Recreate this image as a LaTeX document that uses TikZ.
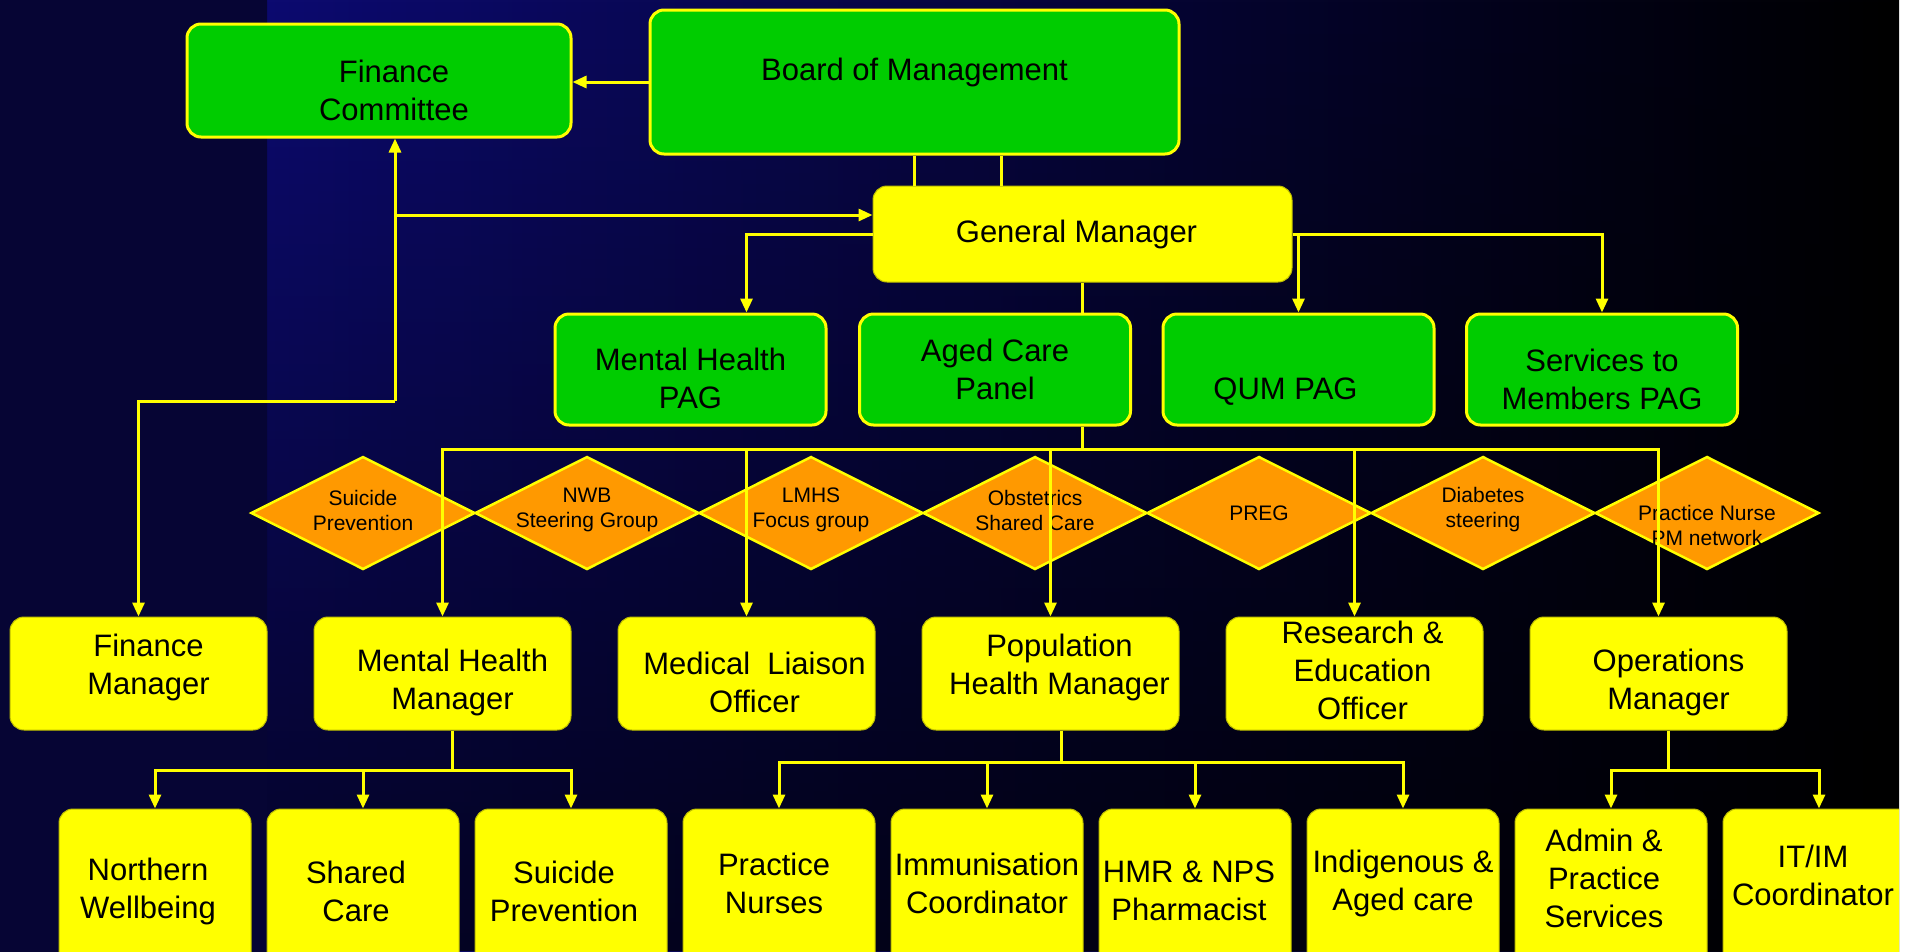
\documentclass[tikz,border=0pt]{standalone}
\usepackage{fontspec}
\setmainfont{Liberation Sans}
\usetikzlibrary{shapes.geometric,arrows.meta,fadings}

\definecolor{boxgreen}{RGB}{0,204,0}
\definecolor{boxorange}{RGB}{255,153,0}
\definecolor{boxyellow}{RGB}{255,255,0}
\definecolor{boxedge}{RGB}{190,190,0}
\definecolor{bgblue}{RGB}{12,10,112}
\definecolor{bgmid}{RGB}{9,8,84}
\definecolor{stripdark}{RGB}{6,5,52}
\definecolor{stripblue}{RGB}{12,10,116}
\newcommand\bigtxt{\fontsize{31}{38}\selectfont}
\newcommand\smalltxt{\fontsize{21}{25}\selectfont}
\tikzfading[name=fadeup, top color=transparent!100, bottom color=transparent!0]

\begin{document}
\begin{tikzpicture}[x=1pt, y=-1pt,
  every label/.style={font=\bigtxt, align=center, text=black},
  gbox/.style={draw=boxyellow, line width=3pt, fill=boxgreen, rounded corners=14pt, inner sep=0pt},
  ybox/.style={draw=boxedge, line width=1pt, fill=boxyellow, rounded corners=14pt, inner sep=0pt},
  panel/.style={diamond, draw=boxyellow, line width=2.5pt, fill=boxorange, inner sep=0pt,
    minimum width=224pt, minimum height=113pt},
  wh/.style 2 args={minimum width=#1pt, minimum height=#2pt},
  link/.style={draw=boxyellow, line width=3pt},
  arr/.style={link, -{Triangle[length=14pt,width=12pt]}}]

  \useasboundingbox (0,0) rectangle (1917,951);
  \fill[white] (0,0) rectangle (1917,951);
  \clip (0,0) rectangle (1899,951);
  \shade[left color=bgblue, middle color=bgmid, right color=black] (267,0) rectangle (1899,951);
  \fill[black, fill opacity=0.65, path fading=fadeup] (267,0) rectangle (1899,951);
  \shade[top color=stripdark, middle color=stripblue, bottom color=stripdark] (0,0) rectangle (267,951);

  % board and committees
  \node[gbox, wh={384}{113}, label={[xshift=15pt, yshift=-10pt]center:Finance\\Committee}] (fc) at (379,80.5) {};
  \node[gbox, wh={529}{144}, label={[yshift=10pt]center:Board of Management}] (board) at (914.5,82) {};
  \node[ybox, wh={419}{96}, label={[xshift=-6pt]center:General Manager}] (gm) at (1082.5,234) {};

  \node[gbox, wh={271}{111}, label={[yshift=-9pt]center:Mental Health\\PAG}] (mhpag) at (690.5,369.5) {};
  \node[gbox, wh={271}{111}, label={center:Aged Care\\Panel}] (acp) at (995,369.5) {};
  \node[gbox, wh={271}{111}, label={[xshift=-13pt, yshift=-22pt]center:QUM PAG}] (qum) at (1298.5,369.5) {};
  \node[gbox, wh={271}{111}, label={[yshift=-10pt]center:Services to\\Members PAG}] (smpag) at (1602,369.5) {};

  % working groups
  \node[panel, label={[font=\smalltxt, yshift=3pt]center:Suicide\\Prevention}] (dsp) at (363,513) {};
  \node[panel, label={[font=\smalltxt, yshift=3pt]center:NWB\\Steering Group}] (dnwb) at (587,513) {};
  \node[panel, label={[font=\smalltxt, yshift=3pt]center:LMHS\\Focus group}] (dlmhs) at (811,513) {};
  \node[panel, label={[font=\smalltxt, yshift=3pt]center:Obstetrics\\Shared Care}] (dobs) at (1035,513) {};
  \node[panel, label={[font=\smalltxt]center:PREG}] (dpreg) at (1259,513) {};
  \node[panel, label={[font=\smalltxt, yshift=3pt]center:Diabetes\\steering}] (ddia) at (1483,513) {};
  \node[panel, label={[font=\smalltxt, yshift=-12pt]center:Practice Nurse\\PM network}] (dpn) at (1707,513) {};

  % managers
  \node[ybox, wh={257}{113}, label={[xshift=10pt, yshift=6pt]center:Finance\\Manager}] (fm) at (138.5,673.5) {};
  \node[ybox, wh={257}{113}, label={[xshift=10pt, yshift=-9pt]center:Mental Health\\Manager}] (mhm) at (442.5,673.5) {};
  \node[ybox, wh={257}{113}, label={[xshift=8pt, yshift=-9pt]center:Medical~~Liaison\\Officer}] (mlo) at (746.5,673.5) {};
  \node[ybox, wh={257}{113}, label={[xshift=9pt, yshift=6pt]center:Population\\Health Manager}] (phm) at (1050.5,673.5) {};
  \node[ybox, wh={257}{113}, label={[xshift=8pt, yshift=3pt]center:Research \&\\Education\\Officer}] (reo) at (1354.5,673.5) {};
  \node[ybox, wh={257}{113}, label={[xshift=10pt, yshift=-9pt]center:Operations\\Manager}] (om) at (1658.5,673.5) {};

  % staff
  \node[ybox, wh={192}{180}, label={[xshift=-7pt, yshift=8pt]center:Northern\\Wellbeing}] (nw) at (155,899) {};
  \node[ybox, wh={192}{180}, label={[xshift=-7pt, yshift=8pt]center:Shared\\Care}] (sc) at (363,899) {};
  \node[ybox, wh={192}{180}, label={[xshift=-7pt, yshift=8pt]center:Suicide\\Prevention}] (sp) at (571,899) {};
  \node[ybox, wh={192}{180}, label={[xshift=-5pt, yshift=16pt]center:Practice\\Nurses}] (pn) at (779,899) {};
  \node[ybox, wh={192}{180}, label={[yshift=16pt]center:Immunisation\\Coordinator}] (ic) at (987,899) {};
  \node[ybox, wh={192}{180}, label={[xshift=-6pt, yshift=8pt]center:HMR \& NPS\\Pharmacist}] (hmr) at (1195,899) {};
  \node[ybox, wh={192}{180}, label={[yshift=16pt]center:Indigenous \&\\Aged care}] (ind) at (1403,899) {};
  \node[ybox, wh={192}{180}, label={[xshift=-7pt, yshift=21pt]center:Admin \&\\Practice\\Services}] (adm) at (1611,899) {};
  \node[ybox, wh={192}{180}, label={[xshift=-6pt, yshift=24pt]center:IT/IM\\Coordinator}] (itm) at (1819,899) {};

  % connectors
  \draw[arr] (board.west) -- (board.west -| fc.east);
  \draw[link] (board.south) -- (board.south |- gm.north);
  \draw[link] ([xshift=87pt]board.south) -- ([xshift=87pt]board.south |- gm.north);

  \coordinate (fknee) at (395,401);
  \coordinate (ftee) at (395,215);
  \draw[arr] (fknee) -- (fknee |- fc.south);
  \draw[arr] (fknee) -| (fm.north);
  \draw[arr] (ftee) -- (ftee -| gm.west);

  \draw[arr] (gm.west) -| (mlo.north |- mhpag.north);
  \draw[arr] (gm.east) -| (smpag.north);
  \draw[arr] (gm.east -| qum.north) -- (qum.north);
  \draw[link] (gm.south) -- (gm.south |- acp.north);

  \coordinate (bus) at (1082.5,449);
  \draw[link] (gm.south |- acp.south) -- (bus);
  \foreach \n in {mhm,mlo,phm,reo,om}
    \draw[arr] (bus) -| (\n.north);

  \coordinate (mhbus) at ([xshift=10pt]mhm.south |- 0,770);
  \draw[link] ([xshift=10pt]mhm.south) -- (mhbus);
  \foreach \n in {nw,sc,sp}
    \draw[arr] (mhbus) -| (\n.north);

  \coordinate (phbus) at ([xshift=11pt]phm.south |- 0,762);
  \draw[link] ([xshift=11pt]phm.south) -- (phbus);
  \foreach \n in {pn,ic,hmr,ind}
    \draw[arr] (phbus) -| (\n.north);

  \coordinate (opbus) at ([xshift=10pt]om.south |- 0,770);
  \draw[link] ([xshift=10pt]om.south) -- (opbus);
  \foreach \n in {adm,itm}
    \draw[arr] (opbus) -| (\n.north);
\end{tikzpicture}
\end{document}
